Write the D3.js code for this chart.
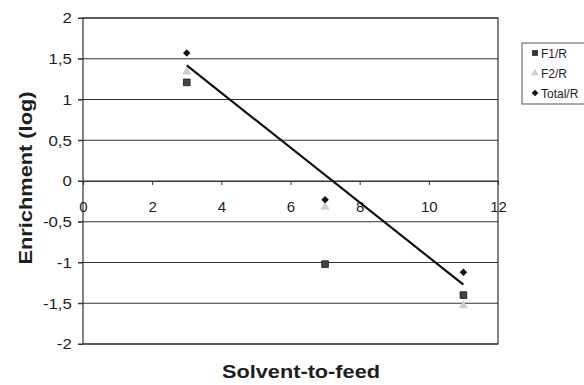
<!DOCTYPE html>
<html><head><meta charset="utf-8">
<script src="https://cdn.jsdelivr.net/npm/d3@7"></script>
<style>body{margin:0;background:#fff}svg{display:block}text{font-family:"Liberation Sans",Arial,sans-serif}</style>
</head><body>
<script>
const xValues = [3, 7, 11];
const f1 = [1.21, -1.02, -1.40];
const f2 = [1.34, -0.32, -1.53];
const total = [1.57, -0.23, -1.12];
const xTicks = [0, 2, 4, 6, 8, 10, 12];
const yTicks = [-2, -1.5, -1, -0.5, 0, 0.5, 1, 1.5, 2];
const seriesNames = ["F1/R", "F2/R", "Total/R"];

const W = 584, H = 385;
const svg = d3.select("body").append("svg").attr("width", W).attr("height", H);
const L = 83, R = 498, T = 18, B = 344;
const x = d3.scaleLinear().domain([0, 12]).range([L, R]);
const y = d3.scaleLinear().domain([-2, 2]).range([B, T]);
const ink = "#1e1e1e";
const FF = "Liberation Sans, Arial, sans-serif";

// gridlines
svg.append("g").selectAll("line").data(yTicks).join("line")
  .attr("x1", L - 5).attr("x2", R).attr("y1", d => y(d)).attr("y2", d => y(d))
  .attr("stroke", "#333").attr("stroke-width", 1.2);
// box
svg.append("rect").attr("x", L).attr("y", T).attr("width", R - L).attr("height", B - T)
  .attr("fill", "none").attr("stroke", "#333").attr("stroke-width", 1.2);

// y axis labels
const fmt = d => String(d).replace(".", ",");
svg.append("g").attr("transform", `translate(${L},0)`)
  .call(d3.axisLeft(y).tickValues(yTicks).tickFormat(fmt).tickSize(5).tickPadding(5))
  .call(g => { g.select(".domain").remove(); g.selectAll("line").attr("stroke", "#333");
    g.selectAll("text").attr("font-size", 15).attr("fill", ink).attr("font-family", FF)
      .attr("transform", "scale(1.12,1)"); });

// x axis at y=0
svg.append("g").attr("transform", `translate(0,${y(0)})`)
  .call(d3.axisBottom(x).tickValues(xTicks).tickFormat(d3.format("d")).tickSize(4).tickPadding(16))
  .call(g => { g.select(".domain").attr("stroke", "#333").attr("stroke-width", 1.2); g.selectAll("line").attr("stroke", "#333");
    g.selectAll("text").attr("font-size", 15).attr("fill", ink).attr("font-family", FF); });

// trend line (linear regression of Total)
const mx = d3.mean(xValues), my = d3.mean(total);
const slope = d3.sum(xValues, (v, i) => (v - mx) * (total[i] - my)) / d3.sum(xValues, v => (v - mx) ** 2);
const icpt = my - slope * mx;
const x0 = d3.min(xValues), x1 = d3.max(xValues);
svg.append("line").attr("x1", x(x0)).attr("y1", y(icpt + slope * x0))
  .attr("x2", x(x1)).attr("y2", y(icpt + slope * x1))
  .attr("stroke", "#111").attr("stroke-width", 2.2);

// markers
const sq = d3.symbol().type(d3.symbolSquare).size(44);
const tri = d3.symbol().type(d3.symbolTriangle).size(36);
const dia = d3.symbol().type(d3.symbolSquare).size(28);
svg.append("g").selectAll("path").data(xValues.map((v, i) => [v, f2[i]])).join("path")
  .attr("d", tri).attr("transform", d => `translate(${x(d[0])},${y(d[1])})`).attr("fill", "#cfcfcf");
svg.append("g").selectAll("path").data(xValues.map((v, i) => [v, f1[i]])).join("path")
  .attr("d", sq).attr("transform", d => `translate(${x(d[0])},${y(d[1])})`).attr("fill", "#444").attr("stroke", "#111").attr("stroke-width", 0.8);
svg.append("g").selectAll("path").data(xValues.map((v, i) => [v, total[i]])).join("path")
  .attr("d", dia).attr("transform", d => `translate(${x(d[0])},${y(d[1])}) rotate(45)`).attr("fill", "#111");

// axis titles
svg.append("text").attr("x", 301).attr("y", 378).attr("text-anchor", "middle")
  .attr("font-size", 18).attr("font-weight", "bold").attr("fill", ink)
  .attr("textLength", 158).attr("lengthAdjust", "spacingAndGlyphs").text("Solvent-to-feed");
svg.append("text").attr("transform", `translate(32,178) rotate(-90)`).attr("text-anchor", "middle")
  .attr("font-size", 18).attr("font-weight", "bold").attr("fill", ink)
  .attr("textLength", 173).attr("lengthAdjust", "spacingAndGlyphs").text("Enrichment (log)");

// legend
const lg = svg.append("g");
lg.append("rect").attr("x", 522).attr("y", 43).attr("width", 70).attr("height", 61)
  .attr("fill", "#fff").attr("stroke", "#555").attr("stroke-width", 1);
const syms = [d3.symbol().type(d3.symbolSquare).size(34), d3.symbol().type(d3.symbolTriangle).size(26), d3.symbol().type(d3.symbolSquare).size(22)];
const rots = [0, 0, 45];
const fills = ["#333", "#d0d0d0", "#111"];
seriesNames.forEach((n, i) => {
  const yy = 53 + i * 20;
  lg.append("path").attr("d", syms[i]).attr("transform", `translate(535,${yy}) rotate(${rots[i]})`).attr("fill", fills[i]);
  lg.append("text").attr("x", 541).attr("y", yy + 4.5).attr("font-size", 12).attr("fill", ink).text(n);
});
</script>
</body></html>
